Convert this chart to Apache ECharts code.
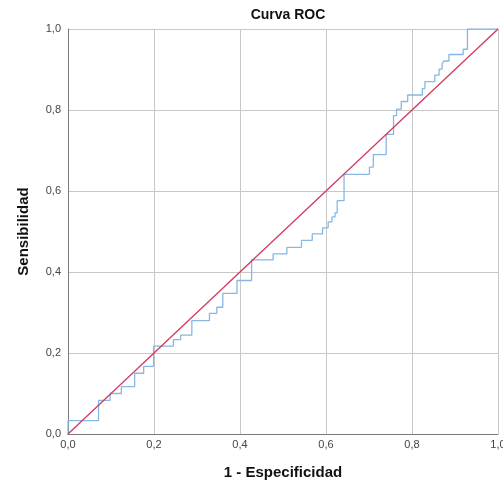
<!DOCTYPE html>
<html>
<head>
<meta charset="utf-8">
<script src="https://cdn.jsdelivr.net/npm/echarts@6/dist/echarts.min.js"></script>
<style>html,body{margin:0;padding:0;background:#fff;}#c{width:503px;height:484px;}</style>
</head>
<body>
<div id="c"></div>
<script>
var titleText = 'Curva ROC';
var xAxisTitle = '1 - Especificidad';
var yAxisTitle = 'Sensibilidad';
var tickValues = [0, 0.2, 0.4, 0.6, 0.8, 1.0];
var rocFpr = [0, 0, 0.071, 0.098, 0.124, 0.155, 0.176, 0.199, 0.245, 0.262, 0.288, 0.329, 0.346, 0.360, 0.393, 0.427, 0.477, 0.509, 0.543, 0.568, 0.592, 0.605, 0.614, 0.621, 0.626, 0.642, 0.701, 0.710, 0.740, 0.757, 0.764, 0.775, 0.790, 0.824, 0.830, 0.853, 0.863, 0.870, 0.874, 0.886, 0.919, 0.929, 1.0];
var rocTpr = [0, 0.033, 0.083, 0.100, 0.117, 0.150, 0.167, 0.217, 0.233, 0.244, 0.280, 0.298, 0.313, 0.347, 0.379, 0.430, 0.445, 0.461, 0.478, 0.494, 0.509, 0.524, 0.536, 0.546, 0.576, 0.641, 0.659, 0.690, 0.740, 0.786, 0.802, 0.821, 0.837, 0.853, 0.870, 0.886, 0.901, 0.914, 0.921, 0.937, 0.950, 1.0, 1.0];
var refX = [0, 1];
var refY = [0, 1];

var fmt = function (v) { return v.toFixed(1).replace('.', ','); };
var chart = echarts.init(document.getElementById('c'));
chart.setOption({
  animation: false,
  backgroundColor: '#ffffff',
  title: {
    text: titleText, left: 283, top: 3, textAlign: 'center',
    textStyle: { fontFamily: 'Liberation Sans', fontSize: 14, fontWeight: 'bold', color: '#111' }
  },
  grid: { left: 68, right: 5, top: 29, bottom: 50, containLabel: false, outerBoundsMode: 'none' },
  xAxis: {
    type: 'value', min: 0, max: 1, interval: 0.2,
    name: xAxisTitle, nameLocation: 'middle', nameGap: 31,
    nameTextStyle: { fontFamily: 'Liberation Sans', fontSize: 15, fontWeight: 'bold', color: '#111' },
    axisLine: { show: true, lineStyle: { color: '#7a7a7a', width: 1 } },
    axisTick: { show: false },
    axisLabel: { formatter: fmt, fontFamily: 'Liberation Sans', fontSize: 11, color: '#444', margin: 5 },
    splitLine: { show: true, lineStyle: { color: '#c8c8c8', width: 1 } }
  },
  yAxis: {
    type: 'value', min: 0, max: 1, interval: 0.2,
    name: yAxisTitle, nameLocation: 'middle', nameGap: 37, nameRotate: 90,
    nameTextStyle: { fontFamily: 'Liberation Sans', fontSize: 15, fontWeight: 'bold', color: '#111' },
    axisLine: { show: true, lineStyle: { color: '#7a7a7a', width: 1 } },
    axisTick: { show: false },
    axisLabel: { formatter: fmt, fontFamily: 'Liberation Sans', fontSize: 11, color: '#444', margin: 7 },
    splitLine: { show: true, lineStyle: { color: '#c8c8c8', width: 1 } }
  },
  series: [
    {
      type: 'line', step: 'end', symbol: 'none',
      data: rocFpr.map(function (x, i) { return [x, rocTpr[i]]; }),
      lineStyle: { color: '#86b8e3', width: 1.3 },
      z: 3
    },
    {
      type: 'line', symbol: 'none',
      data: refX.map(function (x, i) { return [x, refY[i]]; }),
      lineStyle: { color: '#d3395e', width: 1.3 },
      z: 4
    }
  ]
});
</script>
</body>
</html>
